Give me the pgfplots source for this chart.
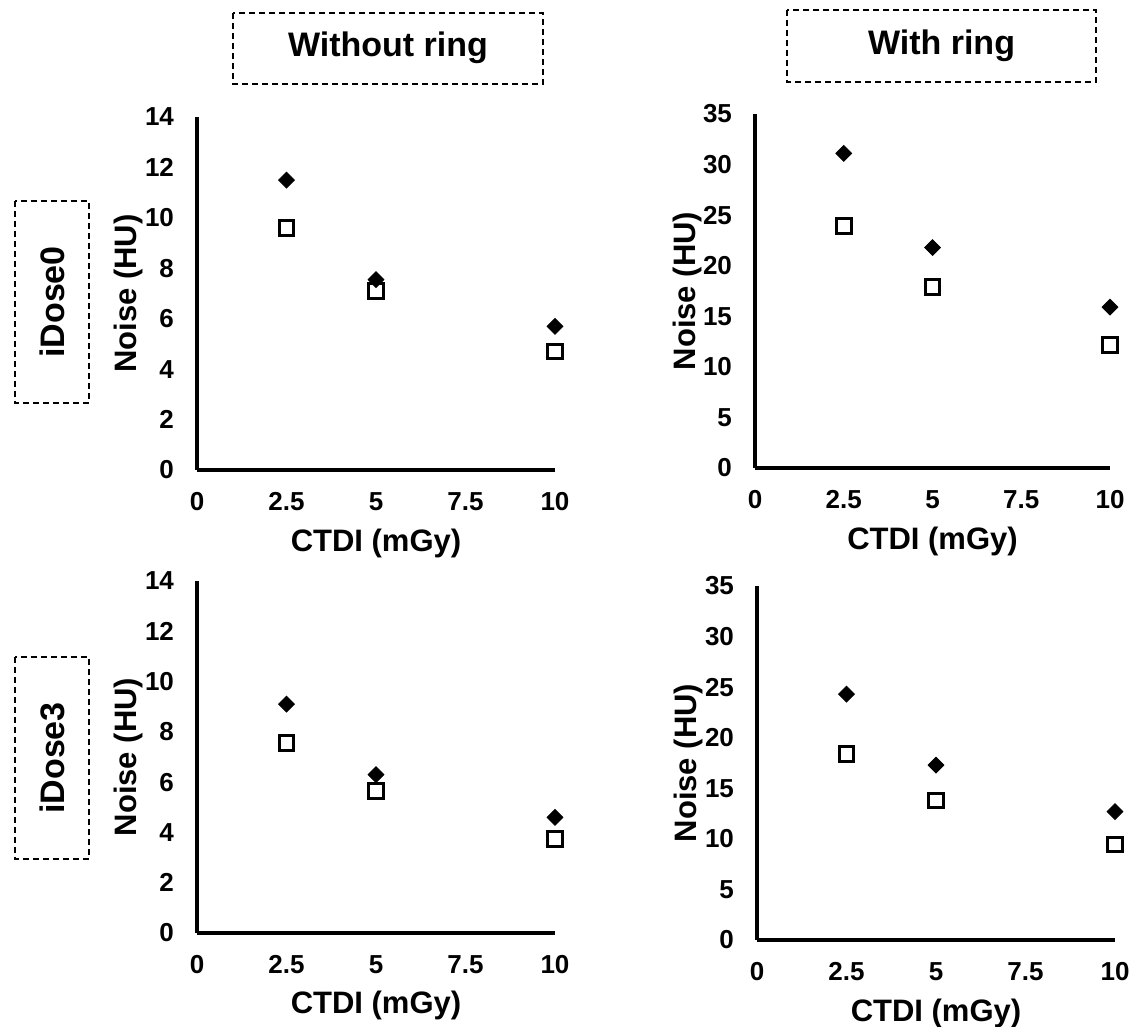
\documentclass[border=0pt]{standalone}
\usepackage{fontspec}
\setmainfont{Liberation Sans}
\usepackage{pgfplots}
\pgfplotsset{compat=1.18}
\pgfplotsset{
 panel/.style={
  scale only axis, anchor=south west,
  axis x line=bottom, axis y line=left,
  axis line style={-, line width=2pt, black},
  xmin=0, xmax=10, ymin=0,
  enlargelimits=false, clip=false,
  major tick length=0pt,
  xtick={0,2.5,5,7.5,10}, xticklabels={0,2.5,5,7.5,10},
  /pgf/number format/assume math mode=true,
  tick label style={font=\fontsize{13}{15}\selectfont\bfseries},
  xticklabel style={yshift=-7pt, text height=9.5pt, text depth=0pt, anchor=north},
  yticklabel style={xshift=-8pt},
  xlabel={CTDI (mGy)}, ylabel={Noise (HU)},
  label style={font=\fontsize{15.5}{18}\selectfont\bfseries},
  xlabel style={at={(axis description cs:0.5,-0.207)}, anchor=center},
  ylabel style={at={(axis description cs:-0.19,0.5)}, anchor=center},
 },
 dia/.style={only marks, mark=square*, mark size=2.8pt, mark options={rotate=45, fill=black, draw=black}},
 sq/.style={only marks, mark=square, mark size=3.7pt, mark options={fill=white, draw=black, line width=1.5pt}},
}
\begin{document}
\begin{tikzpicture}
\useasboundingbox (0,0) rectangle (565.5pt,-513.5pt);
% Top left: iDose0 without ring
\begin{axis}[panel, at={(98.5pt,-235pt)}, width=179pt, height=176.5pt, ymax=14, ytick={0,2,...,14}]
\addplot[dia] coordinates {(2.5,11.5) (5,7.55) (10,5.7)};
\addplot[sq] coordinates {(2.5,9.6) (5,7.1) (10,4.7)};
\end{axis}
% Top right: iDose0 with ring
\begin{axis}[panel, at={(377.5pt,-234pt)}, width=177.5pt, height=177pt, ymax=35, ytick={0,5,...,35}]
\addplot[dia] coordinates {(2.5,31.1) (5,21.8) (10,15.9)};
\addplot[sq] coordinates {(2.5,23.9) (5,17.9) (10,12.2)};
\end{axis}
% Bottom left: iDose3 without ring
\begin{axis}[panel, at={(98.5pt,-466.5pt)}, width=179pt, height=176pt, ymax=14, ytick={0,2,...,14}]
\addplot[dia] coordinates {(2.5,9.1) (5,6.3) (10,4.6)};
\addplot[sq] coordinates {(2.5,7.55) (5,5.65) (10,3.75)};
\end{axis}
% Bottom right: iDose3 with ring
\begin{axis}[panel, at={(378.5pt,-470pt)}, width=179pt, height=177pt, ymax=35, ytick={0,5,...,35}]
\addplot[dia] coordinates {(2.5,24.3) (5,17.3) (10,12.7)};
\addplot[sq] coordinates {(2.5,18.4) (5,13.8) (10,9.45)};
\end{axis}
% Dashed label boxes
\tikzset{dbox/.style={draw=black, line width=1pt, dash pattern=on 3pt off 2pt}}
\draw[dbox] (116.5pt,-6.5pt) rectangle (271.5pt,-42pt);
\node[font=\fontsize{17}{20}\selectfont\bfseries] at (194pt,-24pt) {Without ring};
\draw[dbox] (393.5pt,-5pt) rectangle (548pt,-41pt);
\node[font=\fontsize{17}{20}\selectfont\bfseries] at (470.75pt,-23pt) {With ring};
\draw[dbox] (7.5pt,-100.5pt) rectangle (44.5pt,-201.5pt);
\node[font=\fontsize{17}{20}\selectfont\bfseries, rotate=90] at (26pt,-151pt) {iDose0};
\draw[dbox] (7.5pt,-328.5pt) rectangle (44.5pt,-429.5pt);
\node[font=\fontsize{17}{20}\selectfont\bfseries, rotate=90] at (26pt,-379pt) {iDose3};
\end{tikzpicture}
\end{document}
